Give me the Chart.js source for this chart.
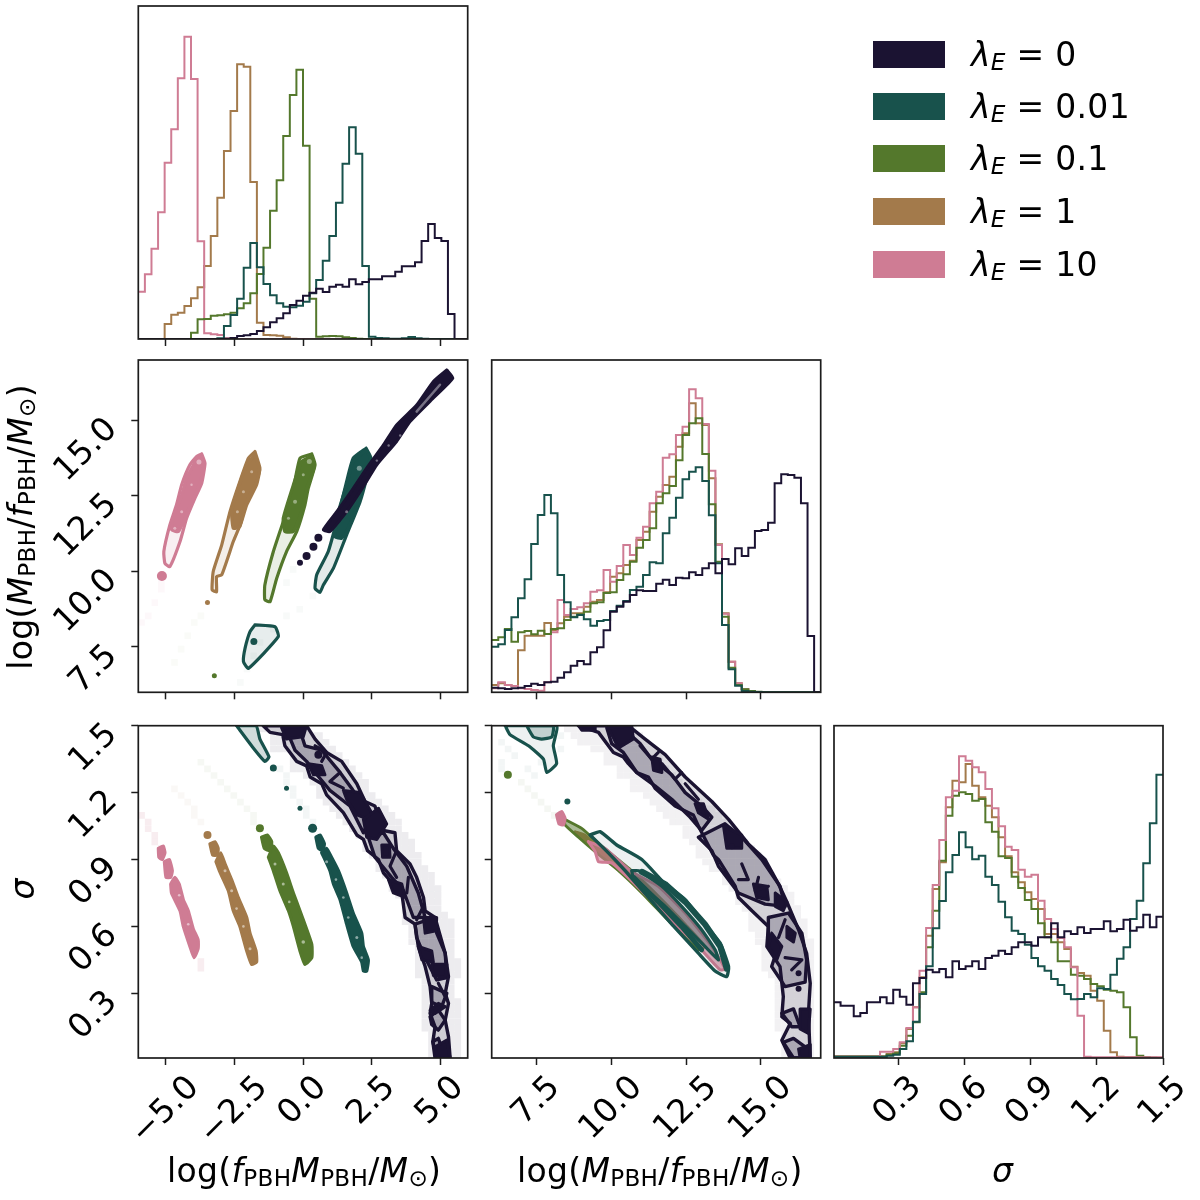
<!DOCTYPE html>
<html><head><meta charset="utf-8">
<script src="https://cdn.jsdelivr.net/npm/chart.js@4"></script>
<style>
html,body{margin:0;padding:0;background:#fff;width:1200px;height:1200px;overflow:hidden}
canvas{position:absolute;left:0;top:0}
.t{position:absolute;font-family:"DejaVu Sans";color:#000;white-space:nowrap;line-height:1;letter-spacing:.3px}
.t i{font-style:oblique}
.t sub{font-size:.7em;vertical-align:-.17em;line-height:0}
.p{position:absolute;left:873px;width:72px;height:27px}
</style></head><body>
<script>
const seriesNames=['0','0.01','0.1','1','10'];
const DARK=[27,19,50],TEAL=[24,82,76],GREEN=[84,120,44],BROWN=[163,122,75],PINK=[207,124,148],PALE=[255,255,255];
const seriesColors=[DARK,TEAL,GREEN,BROWN,PINK];

const rangeF=[-6,6],rangeM=[6,17],rangeS=[0.01,1.5];
const ticksF=[-5,-2.5,0,2.5,5],labelsF=['\u22125.0','\u22122.5','0.0','2.5','5.0'];
const ticksM=[7.5,10,12.5,15],labelsM=['7.5','10.0','12.5','15.0'];
const ticksS=[0.3,0.6,0.9,1.2,1.5],labelsS=['0.3','0.6','0.9','1.2','1.5'];

// ---------- 1-D histograms (50 bins, missing trailing bins are empty)
const histF_pink=[142,194,271,380,529,629,782,907,780,293,17,14,12,2,1];
const histF_brown=[0,0,0,0,45,73,79,99,122,155,219,309,424,564,684,824,817,471,49,12,11,10,5,1];
const histF_green=[0,0,0,0,0,0,0,0,19,59,60,70,71,74,79,92,107,137,195,274,385,476,609,732,808,580,121,7,8,9,8,5,3,1];
const histF_teal=[0,0,0,0,0,0,0,0,0,0,0,0,2,39,72,121,214,288,215,165,131,107,97,95,100,112,137,177,235,309,409,526,635,556,219,7,3,2,1,1,2,6,2,1];
const histF_dark=[0,0,0,0,0,0,0,0,0,0,0,0,0,1,3,9,11,15,24,35,50,62,77,102,115,130,139,151,141,157,163,157,179,164,171,179,179,188,188,202,218,218,230,294,345,303,294,75,0,0];

const histM_teal=[137,144,187,225,282,339,445,532,592,537,352,270,225,232,219,200,214,217,244,260,274,307,317,352,390,387,477,524,584,639,662,675,634,531,387,202,69,20,4,2,1];
const histM_green=[157,165,190,152,180,184,174,185,175,190,192,217,227,234,242,267,270,298,300,337,354,392,434,457,492,567,597,619,696,772,807,822,715,564,392,227,74,22,9,4,2,1];
const histM_brown=[22,27,22,19,126,170,170,170,208,187,207,227,237,237,257,272,277,300,347,357,382,395,457,482,542,587,622,647,737,777,867,807,802,642,444,237,92,27,9,4,1,1];
const histM_pink=[12,30,22,19,12,10,7,5,30,180,277,232,250,255,267,302,306,367,332,379,442,412,464,497,567,602,704,714,772,797,909,882,805,665,442,236,92,27,9,4,1];
const histM_dark=[14,12,10,12,14,19,26,22,30,32,44,60,80,94,84,120,135,186,242,257,272,292,306,304,304,326,338,322,344,342,360,352,372,387,357,400,384,432,409,434,484,487,509,627,654,652,644,567,169,0];

const histS_dark=[167,157,157,125,135,167,167,182,164,205,184,160,224,240,265,257,267,242,290,267,275,290,267,300,307,322,312,332,347,347,337,362,362,404,362,380,372,392,375,387,387,410,380,387,415,382,392,430,392,424];
const histS_teal=[4,4,4,4,4,4,4,4,7,10,27,50,109,192,275,389,471,557,609,677,632,596,607,544,519,469,422,382,372,340,300,275,262,237,219,192,176,177,192,182,209,207,250,298,332,417,472,584,704,850];
const histS_green=[4,4,4,4,4,4,4,4,10,14,37,67,107,197,332,442,592,727,787,797,792,772,777,707,679,605,600,544,510,474,447,404,362,347,290,290,250,247,237,222,215,205,202,197,152,62,7,2,1,0];
const histS_brown=[5,5,5,5,5,5,5,5,12,17,44,87,152,242,367,507,587,752,832,827,882,817,782,757,722,662,605,557,527,497,477,447,372,372,347,327,274,255,247,202,172,82,17,4,2,2,2,2,1,1];
const histS_pink=[4,4,4,4,4,4,4,19,19,27,47,90,152,262,390,519,654,782,802,905,892,872,857,807,749,695,634,624,565,544,550,472,417,387,360,332,272,127,4,2,2,2,2,2,2,2,2,2,2,2];

// ---------- panel F-M contours: [logFM, logM/f]
const fmPinkOuter=[[-3.69,13.89],[-3.57,13.58],[-3.69,12.92],[-3.94,12.42],[-4.24,11.76],[-4.48,10.99],[-4.85,10.16],[-5.03,10.27],[-5.07,10.66],[-4.85,11.54],[-4.61,12.2],[-4.42,12.87],[-4.12,13.53],[-3.88,13.8]];
const fmPinkInner=[[-3.68,13.8],[-3.62,13.5],[-3.75,12.92],[-4.0,12.42],[-4.3,11.76],[-4.54,11.32],[-4.79,11.38],[-4.73,11.76],[-4.42,12.53],[-4.24,13.09],[-3.98,13.55],[-3.85,13.75]];
const fmBrownOuter=[[-1.75,13.97],[-1.57,13.42],[-1.69,12.87],[-2.05,12.2],[-2.24,11.65],[-2.54,10.99],[-2.96,9.89],[-3.15,9.83],[-3.15,9.33],[-3.31,9.39],[-3.27,10.0],[-2.96,10.88],[-2.66,11.98],[-2.3,12.98],[-1.99,13.75]];
const fmBrownInner=[[-1.75,13.86],[-1.58,13.36],[-1.75,12.87],[-2.11,12.2],[-2.3,11.49],[-2.54,11.43],[-2.6,11.98],[-2.36,12.75],[-2.05,13.53]];
const fmGreenOuter=[[0.32,13.89],[0.44,13.53],[0.19,12.75],[0.07,12.2],[-0.23,11.32],[-0.6,10.66],[-0.96,9.77],[-1.2,9.0],[-1.39,9.06],[-1.39,9.55],[-1.08,10.66],[-0.72,11.65],[-0.35,12.75],[-0.11,13.75]];
const fmGreenInner=[[0.26,13.8],[0.4,13.42],[0.13,12.75],[-0.05,11.98],[-0.35,11.32],[-0.66,11.32],[-0.72,11.76],[-0.35,12.87],[-0.05,13.64]];
const fmTealOuter=[[2.3,14.08],[2.48,13.75],[2.32,13.09],[2.08,12.31],[1.59,11.21],[1.11,10.11],[0.74,9.55],[0.62,9.31],[0.44,9.44],[0.5,9.89],[0.92,10.66],[1.29,11.87],[1.59,12.98],[1.83,13.75]];
const fmTealInner=[[2.3,14.02],[2.44,13.75],[2.2,12.98],[2.02,12.31],[1.59,11.32],[1.41,11.1],[1.17,11.15],[1.29,11.98],[1.59,12.87],[1.83,13.64]];
const fmTealLow=[[-1.75,8.23],[-1.02,8.17],[-0.9,7.84],[-1.99,6.79],[-2.17,7.02],[-2.11,7.46],[-1.93,8.01]];
const fmDarkBand=[[5.24,16.67],[5.46,16.4],[4.75,15.74],[3.9,14.96],[3.41,14.3],[2.69,13.53],[2.2,12.81],[1.59,11.98],[0.98,11.32],[0.74,11.38],[1.23,11.98],[1.83,12.75],[2.32,13.42],[2.93,14.19],[3.41,14.85],[4.14,15.51],[4.75,16.29]];
const fmDarkSlit=[[4.99,16.18],[4.14,15.29]];
const fmDots={pink:[[-5.14,9.85,5]],brown:[[-3.48,8.97,2.5]],green:[[-3.23,6.55,2.5]],teal:[[-1.79,7.68,3.5]],dark:[[0.56,11.12,4],[0.38,10.82,4],[0.13,10.51,4],[-0.11,10.29,3]]};
const fmSpecks=[[-3.79,13.62,2.5],[-4.06,12.87,1.2],[-4.42,11.98,1.5],[-4.67,11.43,1.5],[-1.87,13.3,1.5],[-2.17,12.64,1.5],[-2.39,11.98,1.5],[0.23,13.64,2.5],[0.01,13.2,1.5],[-0.29,12.31,2],[-0.53,11.76,1.5],[2.05,13.42,2.5],[1.59,11.98,1.5],[3.54,14.5,1.2],[3.12,14.17,1.2],[2.69,13.67,1.2]];
const fmTailPink=[[0,39],[1,38],[2,36],[3,34],[3,33]];
const fmTailGreen=[[5,45],[6,43],[7,41],[8,39],[9,38]];
const fmTailTeal=[[15,48],[16,46],[17,44],[18,42],[20,40],[22,38],[24,37],[26,35],[23,31],[22,33]];

// ---------- panel F-sigma contours: [logFM, sigma]
const fsPink=[[-4.82,0.79],[-4.79,0.75],[-4.48,0.67],[-4.36,0.6],[-4.12,0.51],[-3.97,0.46],[-3.82,0.5],[-3.82,0.54],[-4.0,0.59],[-4.18,0.67],[-4.36,0.72],[-4.51,0.79],[-4.67,0.82]];
const fsPinkA=[[-5.05,0.89],[-4.87,0.9],[-4.76,0.85],[-4.82,0.82],[-4.99,0.82]];
const fsPinkB=[[-5.27,0.95],[-5.09,0.96],[-5.03,0.93],[-5.13,0.9],[-5.25,0.91]];
const fsBrown=[[-3.17,0.89],[-3.05,0.85],[-2.72,0.76],[-2.54,0.67],[-2.3,0.6],[-2.05,0.49],[-1.87,0.43],[-1.69,0.44],[-1.71,0.49],[-1.93,0.57],[-2.05,0.64],[-2.36,0.73],[-2.6,0.81],[-2.84,0.88],[-3.0,0.93]];
const fsBrownA=[[-3.39,0.97],[-3.21,0.98],[-3.09,0.95],[-3.12,0.92],[-3.29,0.92]];
const fsGreen=[[-1.26,0.91],[-1.08,0.85],[-0.84,0.76],[-0.53,0.67],[-0.35,0.6],[-0.11,0.49],[0.07,0.43],[0.32,0.46],[0.32,0.52],[0.07,0.61],[-0.11,0.67],[-0.35,0.75],[-0.6,0.84],[-0.9,0.93],[-1.08,0.96]];
const fsGreenA=[[-1.51,1.0],[-1.3,1.01],[-1.14,0.98],[-1.2,0.94],[-1.41,0.95]];
const fsTeal=[[0.68,0.93],[0.98,0.85],[1.11,0.79],[1.35,0.72],[1.59,0.61],[1.83,0.51],[2.14,0.44],[2.2,0.4],[2.32,0.4],[2.38,0.45],[2.2,0.51],[2.14,0.57],[1.83,0.66],[1.59,0.75],[1.29,0.85],[1.04,0.91],[0.86,0.95]];
const fsTealA=[[0.47,1.0],[0.62,1.01],[0.78,0.97],[0.72,0.94],[0.56,0.95]];
const fsTealWedge=[[-2.42,1.5],[-1.71,1.5],[-1.57,1.44],[-1.24,1.36],[-1.39,1.34],[-1.81,1.4]];
const fsDarkBand=[[-1.45,1.5],[-1.2,1.47],[-0.74,1.46],[-0.66,1.41],[-0.23,1.34],[0.13,1.32],[0.26,1.27],[0.68,1.24],[0.86,1.19],[1.47,1.11],[1.96,1.01],[2.2,0.99],[2.35,0.94],[2.75,0.9],[2.93,0.84],[3.29,0.79],[3.6,0.75],[3.72,0.64],[4.08,0.61],[4.2,0.51],[4.45,0.42],[4.63,0.33],[4.69,0.255],[4.63,0.21],[4.81,0.15],[4.73,0.083],[4.87,0.01],[5.36,0.01],[5.3,0.106],[5.18,0.18],[5.3,0.255],[5.18,0.3],[5.3,0.375],[5.18,0.48],[4.87,0.57],[4.81,0.64],[4.45,0.67],[4.39,0.73],[4.14,0.82],[3.9,0.88],[3.41,0.94],[3.35,1.02],[2.93,1.03],[2.62,1.14],[2.26,1.16],[1.96,1.24],[1.41,1.34],[0.86,1.38],[0.44,1.44],[0.13,1.5]];
const fsDarkLoops=[
 [[-0.53,1.46],[-0.11,1.48],[0.07,1.41],[0.68,1.39],[1.29,1.3],[1.77,1.22],[2.2,1.14],[2.44,1.08],[2.2,1.02],[1.71,1.14],[0.98,1.21],[0.44,1.29],[0.13,1.34],[-0.29,1.39]],
 [[2.38,1.0],[2.93,1.02],[3.29,0.95],[3.78,0.87],[4.2,0.75],[4.45,0.64],[4.02,0.64],[3.66,0.76],[3.23,0.82],[2.62,0.91]],
 [[4.08,0.61],[4.81,0.64],[5.18,0.48],[5.24,0.37],[4.87,0.36],[4.45,0.46],[4.14,0.55]],
 [[4.69,0.33],[5.24,0.3],[5.05,0.24],[4.69,0.26]],
 [[4.63,0.195],[4.93,0.225],[5.18,0.18],[4.93,0.135],[4.69,0.16]],
 [[4.73,0.083],[4.93,0.098],[5.18,0.01],[4.81,0.01]]];
const fsDarkSolid=[
 [[-0.78,1.49],[0.13,1.5],[0.01,1.45],[-0.6,1.44]],
 [[0.19,1.33],[0.68,1.32],[0.8,1.28],[0.38,1.28]],
 [[1.47,1.21],[2.08,1.2],[2.5,1.11],[2.38,1.08],[1.96,1.1],[1.59,1.17]],
 [[2.2,1.08],[2.75,1.13],[3.05,1.06],[2.69,0.99],[2.32,1.0]],
 [[2.87,0.965],[3.15,0.965],[3.17,0.91],[2.9,0.91]],
 [[3.11,0.81],[3.6,0.79],[3.72,0.73],[3.29,0.75]],
 [[4.39,0.64],[4.87,0.64],[4.85,0.58],[4.45,0.57]],
 [[4.2,0.51],[4.69,0.49],[4.75,0.44],[4.33,0.45]],
 [[4.69,0.43],[5.24,0.43],[5.18,0.37],[4.75,0.38]],
 [[4.63,0.225],[4.93,0.255],[5.18,0.24],[4.81,0.21]],
 [[4.81,0.06],[5.24,0.09],[5.36,0.01],[4.93,0.01]]];
const fsDarkChevrons=[
 [[0.44,1.41],[0.86,1.38],[0.68,1.34]],
 [[1.35,1.29],[0.98,1.25],[1.47,1.22]],
 [[3.41,0.94],[3.17,0.87],[3.41,0.82]],
 [[3.84,0.82],[3.78,0.75]],
 [[4.39,0.69],[4.14,0.63]],
 [[4.93,0.345],[5.18,0.285]]];
const fsDots={brown:[[-3.48,1.01,4]],green:[[-1.57,1.04,4]],teal:[[0.35,1.04,4.5],[-0.11,1.13,2.5],[-0.6,1.22,2.5],[-1.08,1.31,3.5]],dark:[[0.56,1.37,4]]};
const fsSpecks=[[-4.51,0.74,1.3],[-4.18,0.61,1.3],[-2.84,0.85,1.5],[-2.6,0.76,1.5],[-2.42,0.68,1.3],[-2.17,0.6,1.3],[-1.93,0.5,1.5],[-1.02,0.88,1.5],[-0.72,0.79,1.5],[-0.5,0.71,1.3],[0.01,0.53,1.8],[0.86,0.89,1.5],[1.2,0.81,1.3],[1.47,0.73,1.3],[1.65,0.64,1.3],[1.96,0.55,1.5],[2.14,0.46,1.3]];
const fsHaloDark=[[18,25],[20,27],[20,28],[20,29],[23,30],[23,31],[23,32],[25,33],[26,34],[27,34],[27,35],[28,36],[29,37],[30,38],[31,39],[32,39],[33,40],[34,41],[34,41],[35,42],[36,42],[36,43],[37,44],[38,44],[38,45],[39,45],[40,45],[40,45],[40,46],[40,47],[41,47],[41,47],[41,47],[42,47],[42,47],[42,48],[42,48],[42,48],[43,47],[43,47],[43,47],[43,48],[43,48],[43,48],[43,48],[43,48],[44,48],[44,48],[44,48],[44,48]];
const fsTailPink=[[0,13],[1,14],[1,15],[2,16],[2,17],[3,18],[9,35],[9,36]];
const fsTailBrown=[[5,9],[6,10],[7,11],[8,12],[8,13],[9,14]];
const fsTailGreen=[[9,5],[10,6],[11,7],[12,8],[13,9],[14,10],[15,11],[16,12],[17,13],[17,14]];
const fsTailTeal=[[21,6],[22,7],[22,8],[23,9],[23,10],[24,11],[25,12],[25,13],[26,14],[26,15]];

// ---------- panel M-sigma contours: [logM/f, sigma]
const msDarkBand=[[8.9,1.5],[9.57,1.47],[10.07,1.38],[10.4,1.36],[10.57,1.33],[10.85,1.29],[11.24,1.27],[11.46,1.22],[12.13,1.14],[12.74,1.1],[12.91,1.05],[13.41,0.92],[13.58,0.9],[14.14,0.78],[14.25,0.73],[14.7,0.67],[15.25,0.6],[15.2,0.51],[15.64,0.42],[15.75,0.285],[15.7,0.195],[15.98,0.165],[15.7,0.09],[15.98,0.01],[16.65,0.01],[16.59,0.21],[16.65,0.345],[16.53,0.48],[16.26,0.585],[15.87,0.71],[15.59,0.79],[15.14,0.9],[14.58,0.97],[13.92,1.08],[13.36,1.16],[12.47,1.27],[11.8,1.37],[11.13,1.44],[10.57,1.5]];
const msDarkLoops=[
 [[9.85,1.49],[10.46,1.48],[10.96,1.42],[11.35,1.35],[12.02,1.28],[12.47,1.2],[13.02,1.14],[13.36,1.09],[13.02,1.03],[12.63,1.09],[12.02,1.17],[11.46,1.23],[10.85,1.29],[10.4,1.38],[10.01,1.42]],
 [[12.91,1.0],[13.8,1.06],[14.36,1.0],[15.03,0.9],[15.64,0.78],[15.81,0.69],[15.14,0.7],[14.25,0.75],[13.58,0.87],[13.36,0.94]],
 [[15.25,0.64],[15.92,0.66],[16.37,0.57],[16.53,0.45],[16.48,0.35],[15.81,0.33],[15.36,0.42],[15.58,0.51],[15.25,0.55]],
 [[15.7,0.21],[16.09,0.23],[16.31,0.15],[16.03,0.15],[15.87,0.18]],
 [[15.75,0.08],[16.09,0.098],[16.48,0.06],[16.59,0.01],[16.09,0.01]]];
const msDarkSolid=[
 [[8.9,1.5],[9.46,1.5],[9.46,1.48],[9.01,1.48]],
 [[9.9,1.49],[10.68,1.5],[10.74,1.44],[10.24,1.4]],
 [[11.35,1.36],[11.63,1.35],[11.69,1.29],[11.41,1.3]],
 [[12.8,1.15],[13.08,1.15],[13.25,1.08],[12.91,1.11]],
 [[13.75,1.05],[14.36,1.01],[14.36,0.95],[13.86,0.95]],
 [[14.75,0.79],[15.2,0.78],[15.25,0.72],[14.86,0.73]],
 [[15.48,0.75],[15.87,0.71],[15.75,0.67],[15.48,0.69]],
 [[15.36,0.57],[15.7,0.51],[15.53,0.45],[15.25,0.51]],
 [[15.87,0.6],[16.15,0.57],[16.09,0.53],[15.87,0.55]],
 [[16.31,0.23],[16.65,0.23],[16.59,0.12],[16.31,0.14]],
 [[16.26,0.05],[16.65,0.07],[16.65,0.01],[16.31,0.01]]];
const msDarkChevrons=[
 [[10.96,1.41],[11.35,1.35],[11.57,1.38]],
 [[11.69,1.33],[12.13,1.26],[12.35,1.29]],
 [[12.47,1.24],[12.91,1.17]],
 [[14.36,0.88],[14.58,0.81],[14.25,0.81]],
 [[14.92,0.82],[14.81,0.76],[15.25,0.78]],
 [[15.81,0.63],[15.59,0.55]],
 [[15.81,0.46],[16.37,0.45],[16.03,0.405]]];
const msTealTop=[[6.45,1.5],[6.61,1.46],[7.23,1.41],[7.73,1.35],[7.84,1.29],[8.17,1.33],[8.06,1.41],[8.17,1.5]];
const msTealTopInner=[[7.17,1.5],[7.39,1.45],[7.67,1.44],[8.01,1.45],[8.06,1.5]];
const msTealOuter=[[9.29,1.01],[9.62,1.025],[10.18,0.965],[11.02,0.9],[11.8,0.79],[12.47,0.72],[13.13,0.61],[13.64,0.525],[13.92,0.42],[13.86,0.375],[13.47,0.4],[12.91,0.48],[12.02,0.61],[11.24,0.73],[10.46,0.85],[9.9,0.93]];
const msTealInner=[[10.68,0.85],[10.91,0.85],[11.69,0.78],[12.35,0.69],[13.02,0.585],[13.47,0.495],[13.58,0.45],[13.13,0.51],[12.47,0.6],[11.8,0.69],[11.02,0.78],[10.74,0.815]];
const msTealEdgeA=[[11.02,0.845],[11.8,0.79],[12.47,0.71],[13.13,0.61],[13.64,0.51],[13.86,0.41]];
const msTealEdgeB=[[10.74,0.82],[11.57,0.71],[12.35,0.6],[13.02,0.495]];
const msPink=[[9.23,0.98],[9.79,0.95],[10.68,0.845],[11.57,0.78],[12.47,0.66],[13.36,0.51],[13.8,0.41],[13.64,0.405],[12.91,0.51],[11.91,0.64],[10.79,0.79],[10.01,0.885],[9.57,0.89],[9.46,0.935]];
const msPinkA=[[8.17,1.1],[8.34,1.115],[8.45,1.085],[8.4,1.055],[8.25,1.06]];
const msGreen=[[8.45,1.08],[9.01,1.04],[9.68,0.96],[10.68,0.85],[11.69,0.72],[12.47,0.61],[13.13,0.51],[12.91,0.495],[12.02,0.61],[11.02,0.75],[10.24,0.85],[9.46,0.935],[8.9,1.0],[8.45,1.055]];
const msBrown=[[8.79,1.025],[9.12,1.01],[12.24,0.644],[12.47,0.6],[12.13,0.63],[8.9,1.01]];
const msDots={green:[[6.54,1.28,4]],teal:[[8.53,1.16,3]],dark:[[12.91,1.14,3],[14.03,0.96,3],[15.98,0.57,3],[16.26,0.39,3],[16.26,0.32,3]]};
const msHaloDark=[[11,21],[12,22],[13,23],[15,24],[17,25],[17,25],[19,26],[19,27],[21,28],[21,29],[23,30],[24,31],[25,33],[26,34],[27,35],[29,36],[29,37],[30,38],[31,39],[31,40],[32,41],[33,41],[35,42],[35,43],[36,44],[37,45],[37,45],[38,46],[39,46],[39,47],[39,47],[40,47],[40,48],[41,48],[41,48],[41,48],[41,48],[42,48],[43,48],[43,48],[43,48],[43,48],[43,48],[43,48],[43,48],[43,48],[44,48],[44,48],[44,48],[44,48]];
const msTailGreen=[[4,8],[5,9],[6,10],[7,11],[8,12],[9,13],[10,14]];
const msTailTeal=[[1,2],[2,3],[3,4],[1,5],[1,6],[5,6],[6,7],[7,5],[9,0],[10,1],[10,3]];

// ---------- builders
const rgba=(c,a)=>`rgba(${c[0]},${c[1]},${c[2]},${a})`;
const TICK=7;
function histDs(values,range,color){
  const bins=50,w=(range[1]-range[0])/bins,data=[];
  for(let i=0;i<bins;i++)data.push({x:range[0]+i*w,y:values[i]||0});
  data.push({x:range[1],y:values[bins-1]||0});
  return {data,showLine:true,stepped:'before',borderColor:rgba(color,1),borderWidth:2,pointRadius:0,fill:false,borderJoinStyle:'miter'};
}
function loop(pts,color,fillAlpha,width,tension){
  const data=pts.concat([pts[0]]).map(p=>({x:p[0],y:p[1]}));
  return {data,showLine:true,tension:tension===undefined?0.15:tension,borderColor:rgba(color,1),borderWidth:width===undefined?3.2:width,pointRadius:0,
    backgroundColor:rgba(color,fillAlpha),fill:fillAlpha>0?'shape':false,borderJoinStyle:'round',borderCapStyle:'round'};
}
function path(pts,color,alpha,width){
  return {data:pts.map(p=>({x:p[0],y:p[1]})),showLine:true,borderColor:rgba(color,alpha),borderWidth:width,pointRadius:0,fill:false,borderJoinStyle:'round',borderCapStyle:'round'};
}
function dots(list,color,alpha){
  return {data:list.map(p=>({x:p[0],y:p[1]})),pointRadius:list.map(p=>p[2]),pointBackgroundColor:rgba(color,alpha===undefined?1:alpha),pointBorderWidth:0,showLine:false};
}
function cellDs(cells,color,alpha,xr,yr){
  const n=50,data=cells.map(c=>({x:xr[0]+(c[0]+.5)*(xr[1]-xr[0])/n,y:yr[1]-(c[1]+.5)*(yr[1]-yr[0])/n}));
  return {data,pointStyle:'rect',pointRadius:4.67,pointBackgroundColor:rgba(color,alpha),pointBorderWidth:0,showLine:false};
}
function bandCells(rows){const out=[];rows.forEach((r,i)=>{for(let c=r[0];c<=r[1];c++)out.push([c,i]);});return out;}

function labelPlugin(xLabels,xTicks,yLabels,yTicks){return {id:'frameAndLabels',afterDraw(chart){
  const ctx=chart.ctx,a=chart.chartArea;
  ctx.save();ctx.strokeStyle='#1c1c1c';ctx.lineWidth=1.7;ctx.strokeRect(a.left,a.top,a.right-a.left,a.bottom-a.top);
  ctx.fillStyle='#000';ctx.font='33px "DejaVu Sans"';ctx.textBaseline='middle';
  if(xLabels){ctx.textAlign='center';xLabels.forEach((t,i)=>{
    const w=ctx.measureText(t).width,px=chart.scales.x.getPixelForValue(xTicks[i]);
    ctx.save();ctx.translate(px,a.bottom+20+(w+24)*0.707/2-4);ctx.rotate(-Math.PI/4);ctx.fillText(t,0,0);ctx.restore();});}
  if(yLabels){ctx.textAlign='right';yLabels.forEach((t,i)=>{
    const py=chart.scales.y.getPixelForValue(yTicks[i]);
    ctx.save();ctx.translate(a.left-26,py+4);ctx.rotate(-Math.PI/4);ctx.fillText(t,0,0);ctx.restore();});}
  ctx.restore();
}};}

function panel(rect,xr,yr,opt,layers){
  const cv=document.createElement('canvas');cv.width=1200;cv.height=1200;document.body.appendChild(cv);
  const [l,t,r,b]=rect;
  const mkTicks=v=>s=>{s.ticks=v.map(value=>({value}));};
  new Chart(cv,{type:'scatter',data:{datasets:layers.slice().reverse()},
   options:{responsive:false,animation:false,devicePixelRatio:1,
    layout:{autoPadding:false,padding:{left:l-(opt.yTicks?TICK:0),top:t,right:1200-r,bottom:1200-b-TICK}},
    plugins:{legend:{display:false},tooltip:{enabled:false},title:{display:false}},
    scales:{
     x:{type:'linear',min:xr[0],max:xr[1],afterBuildTicks:mkTicks(opt.xTicks),ticks:{display:false},border:{display:false},
        grid:{drawOnChartArea:false,tickLength:TICK,tickColor:'#1c1c1c',tickWidth:1.5}},
     y:{type:'linear',display:!!opt.yTicks,min:yr[0],max:yr[1],afterBuildTicks:mkTicks(opt.yTicks||[]),ticks:{display:false},border:{display:false},
        grid:{drawOnChartArea:false,tickLength:TICK,tickColor:'#1c1c1c',tickWidth:1.5}}
    }},
   plugins:[labelPlugin(opt.xLabels,opt.xTicks,opt.yLabels,opt.yTicks)]});
}

const C1=[138.3,467.7],C2=[491.7,820.7],C3=[834,1163];
const R1=[6,339],R2=[360,692.3],R3=[725.7,1058];
const box=(c,r)=>[c[0],r[0],c[1],r[1]];

panel(box(C1,R1),rangeF,[0,999],{xTicks:ticksF},[
  histDs(histF_brown,rangeF,BROWN),histDs(histF_pink,rangeF,PINK),histDs(histF_green,rangeF,GREEN),histDs(histF_teal,rangeF,TEAL),histDs(histF_dark,rangeF,DARK)]);
panel(box(C2,R2),rangeM,[0,997],{xTicks:ticksM},[
  histDs(histM_brown,rangeM,BROWN),histDs(histM_pink,rangeM,PINK),histDs(histM_green,rangeM,GREEN),histDs(histM_teal,rangeM,TEAL),histDs(histM_dark,rangeM,DARK)]);
panel(box(C3,R3),rangeS,[0,997],{xTicks:ticksS,xLabels:labelsS},[
  histDs(histS_brown,rangeS,BROWN),histDs(histS_green,rangeS,GREEN),histDs(histS_pink,rangeS,PINK),histDs(histS_teal,rangeS,TEAL),histDs(histS_dark,rangeS,DARK)]);

panel(box(C1,R2),rangeF,rangeM,{xTicks:ticksF,yTicks:ticksM,yLabels:labelsM},[
  cellDs(fmTailPink,PINK,.05,rangeF,rangeM),cellDs(fmTailGreen,GREEN,.03,rangeF,rangeM),cellDs(fmTailTeal,TEAL,.03,rangeF,rangeM),
  loop(fmPinkOuter,PINK,.12),loop(fmPinkInner,PINK,1),dots(fmDots.pink,PINK),
  loop(fmBrownOuter,BROWN,.12),loop(fmBrownInner,BROWN,1),dots(fmDots.brown,BROWN),
  loop(fmGreenOuter,GREEN,.12),loop(fmGreenInner,GREEN,1),dots(fmDots.green,GREEN),
  loop(fmTealLow,TEAL,.1),dots(fmDots.teal,TEAL),
  loop(fmTealOuter,TEAL,.12),loop(fmTealInner,TEAL,1),
  loop(fmDarkBand,DARK,1,3),dots(fmDots.dark,DARK),
  path(fmDarkSlit,PALE,.4,2.5),dots(fmSpecks,PALE,.4)]);

panel(box(C1,R3),rangeF,rangeS,{xTicks:ticksF,xLabels:labelsF,yTicks:ticksS,yLabels:labelsS},[
  cellDs(bandCells(fsHaloDark),DARK,.08,rangeF,rangeS),
  cellDs(fsTailPink,PINK,.14,rangeF,rangeS),cellDs(fsTailBrown,BROWN,.05,rangeF,rangeS),cellDs(fsTailGreen,GREEN,.05,rangeF,rangeS),cellDs(fsTailTeal,TEAL,.05,rangeF,rangeS),
  loop(fsPink,PINK,1),loop(fsPinkA,PINK,1),loop(fsPinkB,PINK,1),
  loop(fsBrown,BROWN,1),loop(fsBrownA,BROWN,1),dots(fsDots.brown,BROWN),
  loop(fsGreen,GREEN,1),loop(fsGreenA,GREEN,1),dots(fsDots.green,GREEN),
  loop(fsTeal,TEAL,1),loop(fsTealA,TEAL,1),dots(fsDots.teal,TEAL),loop(fsTealWedge,TEAL,.2),
  dots(fsSpecks,PALE,.5),
  loop(fsDarkBand,DARK,.14,3.4,0),...fsDarkLoops.map(l=>loop(l,DARK,.22,3.4,0)),...fsDarkSolid.map(l=>loop(l,DARK,1,3,0)),...fsDarkChevrons.map(l=>path(l,DARK,1,3.2)),dots(fsDots.dark,DARK)]);

panel(box(C2,R3),rangeM,rangeS,{xTicks:ticksM,xLabels:labelsM,yTicks:ticksS},[
  cellDs(bandCells(msHaloDark),DARK,.06,rangeM,rangeS),cellDs(msTailGreen,GREEN,.06,rangeM,rangeS),cellDs(msTailTeal,TEAL,.05,rangeM,rangeS),
  loop(msBrown,BROWN,1,2.5),loop(msGreen,GREEN,.5,2.8),loop(msPink,PINK,.6,3),loop(msPinkA,PINK,1),dots(msDots.green,GREEN),
  loop(msTealOuter,TEAL,.08,3.4),loop(msTealInner,TEAL,.3),path(msTealEdgeA,TEAL,1,6),path(msTealEdgeB,TEAL,1,5),
  loop(msTealTop,TEAL,.08),loop(msTealTopInner,TEAL,.2),dots(msDots.teal,TEAL),
  loop(msDarkBand,DARK,.14,3.4,0),...msDarkLoops.map(l=>loop(l,DARK,.22,3.4,0)),...msDarkSolid.map(l=>loop(l,DARK,1,3,0)),...msDarkChevrons.map(l=>path(l,DARK,1,3.2)),dots(msDots.dark,DARK)]);

// ---------- axis titles and legend as real text
const add=(html,css,cls)=>{const d=document.createElement('div');d.className=cls||'t';d.innerHTML=html;d.style.cssText=css;document.body.appendChild(d);return d;};
add('log(<i>f</i><sub>PBH</sub><i>M</i><sub>PBH</sub>/<i>M</i><sub>\u2299</sub>)','left:167px;top:1154px;font-size:33px');
add('log(<i>M</i><sub>PBH</sub>/<i>f</i><sub>PBH</sub>/<i>M</i><sub>\u2299</sub>)','left:517px;top:1154px;font-size:33px');
add('<i>\u03c3</i>','left:992px;top:1154px;font-size:33px');
add('log(<i>M</i><sub>PBH</sub>/<i>f</i><sub>PBH</sub>/<i>M</i><sub>\u2299</sub>)','left:20px;top:527px;font-size:33px;transform:translate(-50%,-50%) rotate(-90deg)');
add('<i>\u03c3</i>','left:22px;top:889px;font-size:33px;transform:translate(-50%,-50%) rotate(-90deg)');
const legendTops=[41,93,145,198,251];
seriesNames.forEach((n,i)=>{
  add('','top:'+legendTops[i]+'px;background:'+rgba(seriesColors[i],1),'p');
  add('<i>\u03bb</i><sub><i>E</i></sub> = '+n,'left:971px;top:'+(legendTops[i]-3)+'px;font-size:33px');
});
</script>
</body></html>
